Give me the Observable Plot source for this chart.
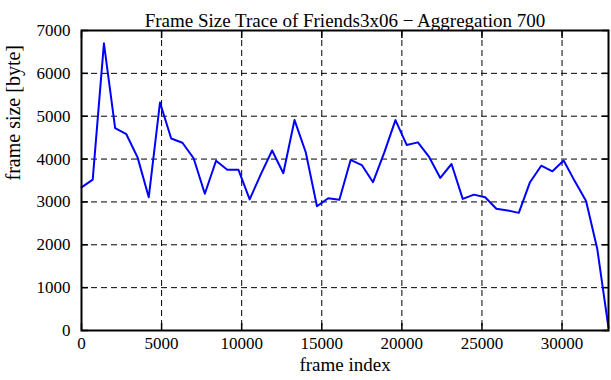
<!DOCTYPE html>
<html>
<head>
<meta charset="utf-8">
<script src="https://cdn.jsdelivr.net/npm/d3@7"></script>
<script src="https://cdn.jsdelivr.net/npm/@observablehq/plot@0.6"></script>
<style>
  html, body { margin: 0; padding: 0; background: #fff; }
  svg { display: block; }
</style>
</head>
<body>
<div id="chart"></div>
<script>
const title = "Frame Size Trace of Friends3x06 \u2212 Aggregation 700";
const xLabel = "frame index";
const yLabel = "frame size [byte]";

const frames = [0, 700, 1400, 2100, 2800, 3500, 4200, 4900, 5600, 6300, 7000, 7700, 8400, 9100, 9800,
  10500, 11200, 11900, 12600, 13300, 14000, 14700, 15400, 16100, 16800, 17500, 18200, 18900, 19600,
  20300, 21000, 21700, 22400, 23100, 23800, 24500, 25200, 25900, 26600, 27300, 28000, 28700, 29400,
  30100, 30800, 31500, 32200, 32900];
const sizes = [3340, 3520, 6700, 4720, 4580, 4040, 3110, 5320, 4480, 4380, 4020, 3190, 3960, 3750, 3750,
  3060, 3650, 4200, 3670, 4910, 4160, 2900, 3085, 3050, 3980, 3860, 3460, 4150, 4910,
  4330, 4390, 4050, 3560, 3885, 3070, 3170, 3110, 2840, 2800, 2745, 3460, 3845, 3715,
  3965, 3480, 3020, 1900, 60];

const xTicks = [0, 5000, 10000, 15000, 20000, 25000, 30000];
const yTicks = [0, 1000, 2000, 3000, 4000, 5000, 6000, 7000];
const xGrid = [5000, 10000, 15000, 20000, 25000, 30000];
const yGrid = [1000, 2000, 3000, 4000, 5000, 6000];

const data = frames.map((f, i) => ({frame: f, size: sizes[i]}));
const font = "Liberation Serif, Times New Roman, serif";

const chart = Plot.plot({
  width: 611,
  height: 380,
  marginTop: 30,
  marginBottom: 50,
  marginLeft: 81,
  marginRight: 3,
  style: {fontFamily: font, fontSize: "17px", color: "#000", background: "#fff"},
  x: {domain: [0, 32900], label: null},
  y: {domain: [0, 7000], label: null},
  marks: [
    Plot.ruleX(xGrid, {stroke: "#000", strokeWidth: 1, strokeDasharray: "6,4"}),
    Plot.ruleY(yGrid, {stroke: "#000", strokeWidth: 1, strokeDasharray: "6,4"}),
    Plot.axisX({anchor: "bottom", ticks: xTicks, tickSize: -7, tickPadding: 13, tickFormat: d => String(d), fontSize: 17, strokeWidth: 1.5, label: null}),
    Plot.axisX({anchor: "top", ticks: xTicks, tickSize: -7, text: null, strokeWidth: 1.5, label: null}),
    Plot.axisY({anchor: "left", ticks: yTicks, tickSize: -7, tickPadding: 18, tickFormat: d => String(d), fontSize: 17, strokeWidth: 1.5, label: null}),
    Plot.axisY({anchor: "right", ticks: yTicks, tickSize: -7, text: null, strokeWidth: 1.5, label: null}),
    Plot.line(data, {x: "frame", y: "size", stroke: "#0000ff", strokeWidth: 2}),
    Plot.frame({stroke: "#000", strokeWidth: 2}),
    Plot.text([title], {frameAnchor: "top", dy: -17, fontSize: 19, fill: "#000"}),
    Plot.text([xLabel], {frameAnchor: "bottom", dy: 40, fontSize: 19, fill: "#000"}),
    Plot.text([yLabel], {frameAnchor: "left", dx: -68, rotate: -90, fontSize: 20, fill: "#000"})
  ]
});
document.getElementById("chart").appendChild(chart);
</script>
</body>
</html>
